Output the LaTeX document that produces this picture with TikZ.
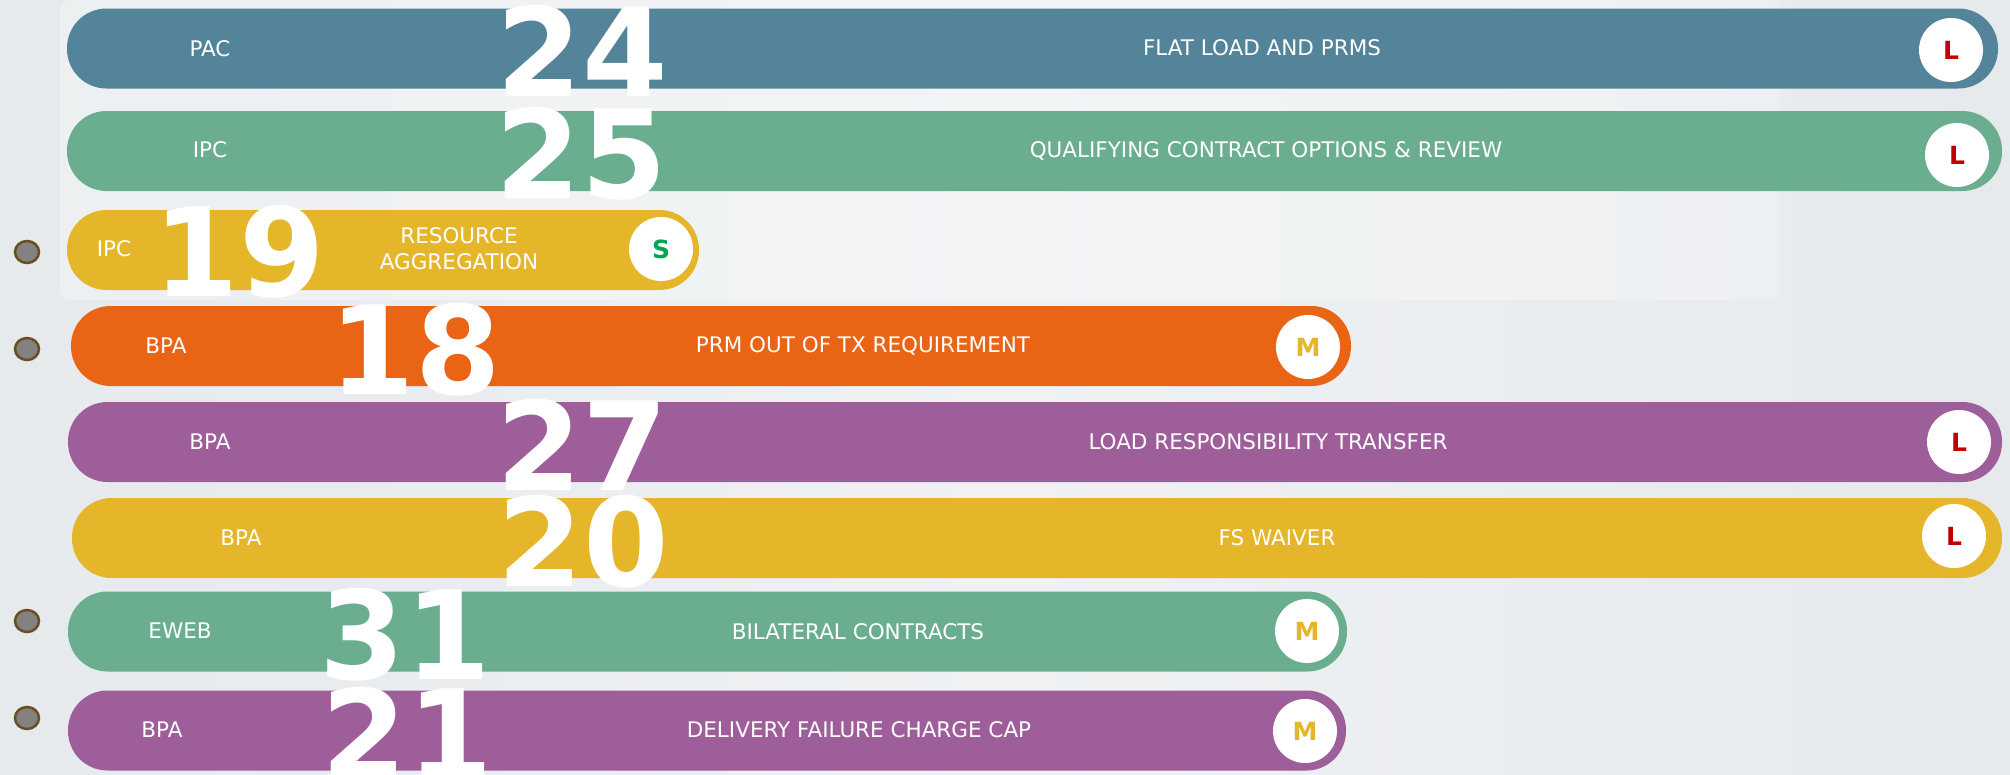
\documentclass[tikz,border=0pt]{standalone}
\usepackage{fontspec}
\setmainfont{DejaVu Sans}
\usetikzlibrary{shapes.geometric}
\definecolor{cBlue}{HTML}{53849A}
\definecolor{cGreen}{HTML}{6AAD8F}
\definecolor{cYellow}{HTML}{E5B62A}
\definecolor{cOrange}{HTML}{E96414}
\definecolor{cPurple}{HTML}{9D5E99}
\definecolor{cRed}{HTML}{C00000}
\definecolor{cSgreen}{HTML}{00A651}
\definecolor{cDot}{HTML}{828282}
\definecolor{cDotRim}{HTML}{6B4E1E}
\definecolor{bgSide}{HTML}{E6EAED}
\definecolor{bgMid}{HTML}{EFF1F3}
\tikzset{
  bar/.style={rectangle, rounded corners=39.5pt, inner sep=0pt, minimum height=80pt, draw=none},
  lbl/.style={text=white, font=\fontsize{21.5}{26}\selectfont, inner sep=0pt, text height=15.7pt, text depth=0pt, align=center},
  bignum/.style={text=white, font=\bfseries\fontsize{123}{123}\selectfont, inner sep=0pt, text height=89.7pt, text depth=0pt},
  badge/.style={circle, fill=white, minimum size=64pt, inner sep=0pt, font=\bfseries\fontsize{25}{25}\selectfont},
  bullet/.style={ellipse, fill=cDot, draw=cDotRim, line width=2.5pt, minimum width=24pt, minimum height=22pt, inner sep=0pt},
}
\begin{document}
\begin{tikzpicture}[x=1pt,y=-1pt]
\useasboundingbox (0,0) rectangle (2010,774);
% background
\shade[left color=bgSide, right color=bgSide, middle color=bgMid] (0,0) rectangle (2010,774);
\fill[white, opacity=0.25, rounded corners=10pt] (60,0) rectangle (1780,300);

% bars
\node[bar, fill=cBlue,   minimum width=1931pt] (b1) at (1032.5,48.5) {};
\node[bar, fill=cGreen,  minimum width=1935pt] (b2) at (1034.5,151) {};
\node[bar, fill=cYellow, minimum width=632pt]  (b3) at (383,250) {};
\node[bar, fill=cOrange, minimum width=1280pt] (b4) at (711,346) {};
\node[bar, fill=cPurple, minimum width=1934pt] (b5) at (1035,442) {};
\node[bar, fill=cYellow, minimum width=1930pt] (b6) at (1037,538) {};
\node[bar, fill=cGreen,  minimum width=1279pt] (b7) at (707.5,631.5) {};
\node[bar, fill=cPurple, minimum width=1278pt] (b8) at (707,730.5) {};

% bullets
\node[bullet] (d3) at (27,252) {};
\node[bullet] (d4) at (27,349) {};
\node[bullet] (d7) at (27,621) {};
\node[bullet] (d8) at (27,718) {};

% owner labels
\node[lbl] (o1) at (210,49) {PAC};
\node[lbl] (o2) at (210,150) {IPC};
\node[lbl] (o3) at (114,249) {IPC};
\node[lbl] (o4) at (166,346) {BPA};
\node[lbl] (o5) at (210,442) {BPA};
\node[lbl] (o6) at (241,538) {BPA};
\node[lbl] (o7) at (180,631) {EWEB};
\node[lbl] (o8) at (162,730) {BPA};

% titles
\node[lbl] (t1) at (1262,48) {FLAT LOAD AND PRMS};
\node[lbl] (t2) at (1266,150) {QUALIFYING CONTRACT OPTIONS \& REVIEW};
\node[text=white, font=\fontsize{21.5}{26}\selectfont, inner sep=0pt, align=center] (t3) at (459,249) {RESOURCE\\AGGREGATION};
\node[lbl] (t4) at (863,345) {PRM OUT OF TX REQUIREMENT};
\node[lbl] (t5) at (1268,442) {LOAD RESPONSIBILITY TRANSFER};
\node[lbl] (t6) at (1277,538) {FS WAIVER};
\node[lbl] (t7) at (858,632) {BILATERAL CONTRACTS};
\node[lbl] (t8) at (859,730) {DELIVERY FAILURE CHARGE CAP};

% big numbers
\node[bignum] (n1) at (582,52) {24};
\node[bignum] (n2) at (581,154) {25};
\node[bignum] (n3) at (239,252) {19};
\node[bignum] (n4) at (415,350) {18};
\node[bignum] (n5) at (582,446) {27};
\node[bignum] (n6) at (583,542) {20};
\node[bignum] (n7) at (405,635) {31};
\node[bignum] (n8) at (407,734) {21};

% badges
\node[badge, text=cRed]    (c1) at (1951,50)  {L};
\node[badge, text=cRed]    (c2) at (1957,155) {L};
\node[badge, text=cSgreen] (c3) at (661,249)  {S};
\node[badge, text=cYellow] (c4) at (1308,347) {M};
\node[badge, text=cRed]    (c5) at (1959,442) {L};
\node[badge, text=cRed]    (c6) at (1954,536) {L};
\node[badge, text=cYellow] (c7) at (1307,631) {M};
\node[badge, text=cYellow] (c8) at (1305,731) {M};
\end{tikzpicture}
\end{document}
